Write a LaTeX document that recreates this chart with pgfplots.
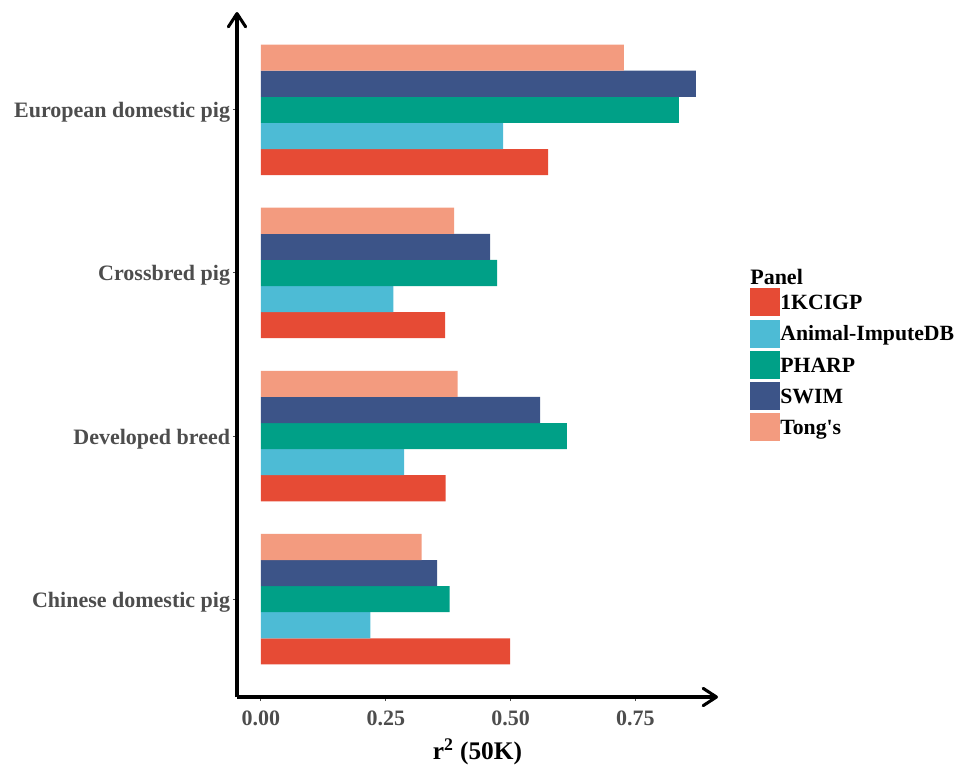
\documentclass[border=0pt]{standalone}
\usepackage{fontspec}
\setmainfont{Liberation Serif}[Ligatures=TeXOff]
\usepackage{pgfplots}
\pgfplotsset{compat=1.18}
\usetikzlibrary{arrows.meta}
\definecolor{c1}{HTML}{E64B35}
\definecolor{c2}{HTML}{4DBBD5}
\definecolor{c3}{HTML}{00A087}
\definecolor{c4}{HTML}{3C5488}
\definecolor{c5}{HTML}{F39B7F}
\definecolor{tickgray}{HTML}{4D4D4D}
\pgfplotsset{keybox/.style={legend image code/.code={\fill[##1,draw=none] (0pt,-8.2pt) rectangle (22.5pt,12.8pt);}}}
\begin{document}
\begin{tikzpicture}
\path[use as bounding box] (-177.75pt,-51pt) rectangle (543.75pt,522.75pt);
\begin{axis}[
  at={(0,0)}, anchor=south west,
  scale only axis, width=360.75pt, height=513.75pt,
  xmin=-0.048, xmax=0.9155, ymin=0.4, ymax=4.6,
  axis lines=left,
  axis line style={line width=2.3pt, -{Straight Barb[length=10pt,width=13pt,line width=2.3pt,round]}},
  xbar=0pt, bar width=0.16,
  tick align=outside, major tick length=3pt,
  tick style={tickgray, line width=0.8pt},
  xtick={0,0.25,0.5,0.75},
  xticklabels={0.00,0.25,0.50,0.75},
  ytick={1,2,3,4},
  yticklabels={Chinese domestic pig, Developed breed, Crossbred pig, European domestic pig},
  ticklabel style={font=\fontsize{16.5}{19}\selectfont\bfseries, text=tickgray},
  xticklabel style={anchor=base, yshift=-18pt},
  yticklabel style={inner sep=0pt, xshift=-2pt, yshift=-2pt},
  xlabel={r\textsuperscript{2} (50K)},
  xlabel style={at={(axis description cs:0.5,0)}, anchor=base, yshift=-46.5pt, inner sep=0pt, font=\fontsize{19}{22}\selectfont\bfseries},
  clip=false,
  legend style={at={(rel axis cs:1.0666,0.597)}, anchor=north west, draw=none, fill=none,
    font=\fontsize{16.3}{18}\selectfont\bfseries, inner sep=0pt, row sep=0pt,
    nodes={inner sep=0pt, text height=13.8pt, text depth=7.4pt},
    /tikz/every even column/.append style={column sep=2pt}},
  legend cell align=left,
]
\addplot[fill=c1, draw=none, bar shift=-0.32, keybox] coordinates {(0.499,1) (0.370,2) (0.369,3) (0.575,4)};
\addlegendentry{1KCIGP}
\addplot[fill=c2, draw=none, bar shift=-0.16, keybox] coordinates {(0.219,1) (0.287,2) (0.265,3) (0.485,4)};
\addlegendentry{Animal-ImputeDB}
\addplot[fill=c3, draw=none, bar shift=0, keybox] coordinates {(0.378,1) (0.613,2) (0.473,3) (0.837,4)};
\addlegendentry{PHARP}
\addplot[fill=c4, draw=none, bar shift=0.16, keybox] coordinates {(0.353,1) (0.559,2) (0.459,3) (0.871,4)};
\addlegendentry{SWIM}
\addplot[fill=c5, draw=none, bar shift=0.32, keybox] coordinates {(0.322,1) (0.394,2) (0.387,3) (0.727,4)};
\addlegendentry{Tong's}
\node[anchor=base west, inner sep=0pt, font=\fontsize{16.5}{19}\selectfont\bfseries] at (rel axis cs:1.0666,0.6029) {Panel};
\end{axis}
\end{tikzpicture}
\end{document}
